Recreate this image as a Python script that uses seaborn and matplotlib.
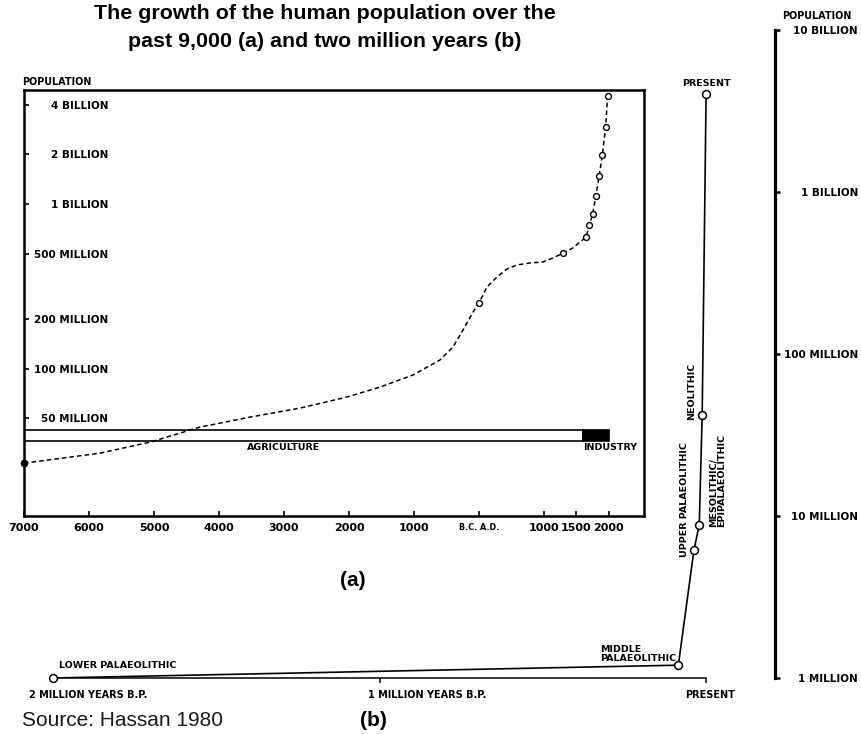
import matplotlib
matplotlib.use("Agg")
import matplotlib.pyplot as plt
from matplotlib.ticker import NullLocator, NullFormatter
from matplotlib.transforms import ScaledTranslation
import pandas as pd
import seaborn as sns

# ---------------- Panel (a): the past 9,000 years (BC years negative) ----------------
years_a = [-7000, -5830, -5060, -4290, -3520, -2750, -2030, -1520, -1015, -600, -400, -246, -92,
           0, 123, 277, 431, 585, 785, 985, 1138, 1300, 1446, 1650, 1700, 1750, 1800, 1850,
           1900, 1950, 1980]
pop_a = [26.6e6, 30.6e6, 35.7e6, 44.1e6, 50.7e6, 57.5e6, 67.1e6, 77.2e6, 91.3e6, 112.7e6,
         135e6, 171e6, 220e6, 250e6, 313e6, 360e6, 403e6, 426e6, 438e6, 444e6, 470e6,
         504e6, 541e6, 630e6, 745e6, 869e6, 1.12e9, 1.48e9, 1.99e9, 2.94e9, 4.53e9]
marked_years_a = [0, 1300, 1650, 1700, 1750, 1800, 1850, 1900, 1950, 1980]

ytick_vals_a = [4e9, 2e9, 1e9, 5e8, 2e8, 1e8, 5e7]
ytick_labels_a = ["4 BILLION", "2 BILLION", "1 BILLION", "500 MILLION",
                  "200 MILLION", "100 MILLION", "50 MILLION"]
xtick_vals_a = [-7000, -6000, -5000, -4000, -3000, -2000, -1000, 0, 1000, 1500, 2000]
xtick_labels_a = ["7000", "6000", "5000", "4000", "3000", "2000", "1000",
                  "B.C. A.D.", "1000", "1500", "2000"]

era_names = ["AGRICULTURE", "INDUSTRY"]
era_start = [-7000, 1600]
era_end = [1600, 2000]

# ---------------- Panel (b): the past two million years ----------------
stages_b = ["LOWER PALAEOLITHIC", "MIDDLE\nPALAEOLITHIC", "UPPER PALAEOLITHIC",
            "MESOLITHIC/\nEPIPALAEOLITHIC", "NEOLITHIC", "PRESENT"]
years_bp_b = [2_000_000, 85_000, 37_000, 21_000, 12_000, 0]
pop_b = [1.0e6, 1.2e6, 6.2e6, 8.8e6, 42e6, 4.0e9]

ytick_vals_b = [1e10, 1e9, 1e8, 1e7, 1e6]
ytick_labels_b = ["10 BILLION", "1 BILLION", "100 MILLION", "10 MILLION", "1 MILLION"]
xtick_vals_b = [2_000_000, 1_000_000, 0]
xtick_labels_b = ["2 MILLION YEARS B.P.", "1 MILLION YEARS B.P.", "PRESENT"]

# ---------------- figure setup ----------------
sns.set_style("white")
plt.rcParams["font.family"] = ["DejaVu Sans"]

W, H = 862, 734
PT = 0.72  # points per pixel at 100 dpi
BOLD = dict(family="DejaVu Sans", weight="bold", color="black")

fig = plt.figure(figsize=(W / 100, H / 100), dpi=100)
fig.patch.set_facecolor("white")


def box(x0, y0, x1, y1):
    """Pixel box (origin top-left) to a figure-fraction rectangle."""
    return [x0 / W, 1 - y1 / H, (x1 - x0) / W, (y1 - y0) / H]


ax_b = fig.add_axes(box(53, 30, 775, 678))
ax_a = fig.add_axes(box(24, 90, 644, 516))
ax_b.set_facecolor("none")
ax_a.set_facecolor("white")

# ---------------- panel (a) ----------------
df_a = pd.DataFrame({"year": years_a, "population": pop_a})
sns.lineplot(data=df_a, x="year", y="population", ax=ax_a, color="black",
             linewidth=1.1, linestyle=(0, (3, 2)), zorder=2)
marks_a = df_a[df_a["year"].isin(marked_years_a)]
sns.scatterplot(data=marks_a, x="year", y="population", ax=ax_a, s=18,
                color="white", edgecolor="black", linewidth=1.0, zorder=3)
sns.scatterplot(data=df_a.iloc[[0]], x="year", y="population", ax=ax_a, s=24,
                color="black", edgecolor="black", linewidth=0.5, zorder=4, clip_on=False)

# economic era bar
bar_y, bar_h = 36.4e6, 6.0e6
ax_a.barh([bar_y] * len(era_names), [e - s for s, e in zip(era_start, era_end)],
          left=era_start, height=bar_h, align="edge", color=["white", "black"],
          edgecolor="black", linewidth=1.2, zorder=1)
ax_a.annotate(era_names[0], xy=(-3000, bar_y), xytext=(0, -1.5), textcoords="offset points",
              ha="center", va="top", fontsize=6.8, **BOLD)
ax_a.annotate(era_names[1], xy=(era_start[1], bar_y), xytext=(0, -1.5), textcoords="offset points",
              ha="left", va="top", fontsize=6.8, **BOLD)

ax_a.set_yscale("log")
ax_a.set_xlim(-7000, 2540)
ax_a.set_ylim(12.7e6, 4.93e9)
ax_a.set_yticks(ytick_vals_a, ytick_labels_a)
ax_a.yaxis.set_minor_locator(NullLocator())
ax_a.yaxis.set_minor_formatter(NullFormatter())
ax_a.set_xticks(xtick_vals_a, xtick_labels_a)
ax_a.set_xlabel("")
ax_a.set_ylabel("")
ax_a.tick_params(axis="y", which="major", direction="in", length=3.6, width=1.2,
                 left=True, color="black", pad=-60.5, labelsize=7.5)
ax_a.tick_params(axis="x", which="major", direction="in", length=3.6, width=1.2,
                 bottom=True, color="black", pad=5, labelsize=8)
for lab in ax_a.get_xticklabels() + ax_a.get_yticklabels():
    lab.set_fontweight("bold")
    lab.set_color("black")
ax_a.get_xticklabels()[xtick_vals_a.index(0)].set_fontsize(5.8)
for sp in ax_a.spines.values():
    sp.set_color("black")
    sp.set_linewidth(1.8)
ax_a.annotate("POPULATION", xy=(0, 1), xycoords="axes fraction", xytext=(-2 * PT, 3 * PT),
              textcoords="offset points", ha="left", va="bottom", fontsize=6.9, **BOLD)

# ---------------- panel (b) ----------------
df_b = pd.DataFrame({"stage": stages_b, "year": [-v for v in years_bp_b], "population": pop_b})
sns.lineplot(data=df_b, x="year", y="population", ax=ax_b, color="black",
             linewidth=1.2, sort=False, zorder=2)
sns.scatterplot(data=df_b, x="year", y="population", ax=ax_b, s=32, color="white",
                edgecolor="black", linewidth=1.1, zorder=3, clip_on=False)

ax_b.set_yscale("log")
ax_b.set_xlim(-2_000_000, 211_000)
ax_b.set_ylim(1e6, 1e10)
ax_b.set_xlabel("")
ax_b.set_ylabel("")
ax_b.spines["left"].set_visible(False)
ax_b.spines["top"].set_visible(False)
ax_b.spines["bottom"].set_bounds(-2_000_000, 0)
ax_b.spines["bottom"].set_linewidth(1.1)
ax_b.spines["right"].set_linewidth(2.3)
for sp in ax_b.spines.values():
    sp.set_color("black")

ax_b.yaxis.tick_right()
ax_b.set_yticks(ytick_vals_b, ytick_labels_b)
ax_b.yaxis.set_minor_locator(NullLocator())
ax_b.yaxis.set_minor_formatter(NullFormatter())
ax_b.tick_params(axis="y", which="major", direction="out", length=3.6, width=1.8,
                 right=True, left=False, labelright=True, labelleft=False,
                 color="black", pad=56.2, labelsize=7.5)
ax_b.set_xticks([-v for v in xtick_vals_b], xtick_labels_b)
ax_b.tick_params(axis="x", which="major", direction="out", length=3.6, width=1.1,
                 bottom=True, color="black", pad=5, labelsize=7)
for lab in ax_b.get_yticklabels():
    lab.set_ha("right")
for lab in ax_b.get_xticklabels() + ax_b.get_yticklabels():
    lab.set_fontweight("bold")
    lab.set_color("black")
# the time labels sit a little right of their ticks
for lab, shift in zip(ax_b.get_xticklabels(), [35, 48, 4]):
    lab.set_transform(lab.get_transform() + ScaledTranslation(shift / 100, 0, fig.dpi_scale_trans))

# stage names next to their points: (dx px, dy px, ha, rotation)
stage_text = {
    "LOWER PALAEOLITHIC": (6, 8, "left", 0),
    "MIDDLE\nPALAEOLITHIC": (-2, 2, "right", 0),
    "UPPER PALAEOLITHIC": (-10, -7, "center", 90),
    "MESOLITHIC/\nEPIPALAEOLITHIC": (18, -2, "center", 90),
    "NEOLITHIC": (-11, -5, "center", 90),
    "PRESENT": (0, 6, "center", 0),
}
for _, row in df_b.iterrows():
    dx, dy, ha, rot = stage_text[row["stage"]]
    ax_b.annotate(row["stage"], xy=(row["year"], row["population"]),
                  xytext=(dx * PT, dy * PT), textcoords="offset points",
                  ha=ha, va="bottom", rotation=rot, multialignment="left",
                  linespacing=1.0, fontsize=6.8, annotation_clip=False, **BOLD)

fig.text(817 / W, 1 - 16 / H, "POPULATION", ha="center", va="center", fontsize=6.9, **BOLD)

# ---------------- titles and panel letters ----------------
TITLE = dict(family="Liberation Sans", weight="bold", fontsize=15.4, color="black", ha="center")
fig.text(325 / W, 1 - 19 / H, "The growth of the human population over the", va="baseline", **TITLE)
fig.text(325 / W, 1 - 47 / H, "past 9,000 (a) and two million years (b)", va="baseline", **TITLE)
fig.text(353 / W, 1 - 580 / H, "(a)", ha="center", va="center", family="Liberation Sans",
         weight="bold", fontsize=15, color="black")
fig.text(373 / W, 1 - 721 / H, "(b)", ha="center", va="center", family="Liberation Sans",
         weight="bold", fontsize=15, color="black")
fig.text(22 / W, 1 - 726 / H, "Source: Hassan 1980", ha="left", va="baseline",
         family="Liberation Sans", fontsize=15, color="#1a1a1a")

fig.savefig("out.png", dpi=100, facecolor="white")
